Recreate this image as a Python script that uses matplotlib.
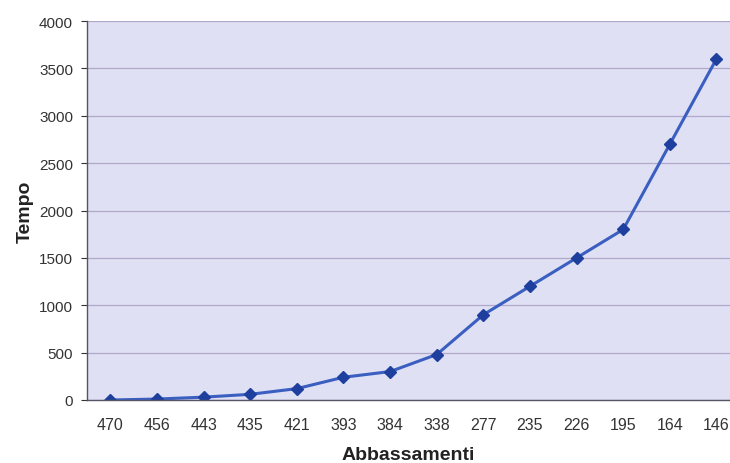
import matplotlib.pyplot as plt
import numpy as np

plt.rcParams['font.family'] = ['Liberation Sans', 'DejaVu Sans']

categories = ['470', '456', '443', '435', '421', '393', '384', '338',
              '277', '235', '226', '195', '164', '146']
tempo = [0, 10, 30, 60, 120, 240, 300, 480, 900, 1200, 1500, 1800, 2700, 3600]
y_ticks = [0, 500, 1000, 1500, 2000, 2500, 3000, 3500, 4000]

fig = plt.figure(figsize=(7.3, 4.64), dpi=100)
ax = fig.add_axes([87 / 730, 63 / 464, 643 / 730, 379 / 464])
ax.set_facecolor('#e0e0f5')

x = np.arange(len(categories))
ax.plot(x, tempo, color='#3a5fc0', linewidth=2.2, marker='D',
        markersize=6, markerfacecolor='#1f3f9f', markeredgecolor='#1f3f9f')

ax.set_xlim(-0.5, 13.29)
ax.set_ylim(0, 4000)
ax.set_yticks(y_ticks)
ax.set_xticks(x)
ax.set_xticklabels(categories)
ax.grid(axis='y', color='#b0a8c8', linewidth=0.9)
ax.set_axisbelow(True)

for side in ['top', 'right']:
    ax.spines[side].set_visible(False)
for side in ['left', 'bottom']:
    ax.spines[side].set_color('#555566')
    ax.spines[side].set_linewidth(1.0)

ax.tick_params(axis='y', labelsize=11, colors='#333333', length=4, pad=6)
ax.tick_params(axis='x', labelsize=11.5, colors='#333333', length=0, pad=12)
ax.set_ylabel('Tempo', fontsize=14, fontweight='bold', color='#222222', labelpad=4)
ax.set_xlabel('Abbassamenti', fontsize=14, fontweight='bold', color='#222222', labelpad=10)

fig.savefig('out.png', dpi=100)
